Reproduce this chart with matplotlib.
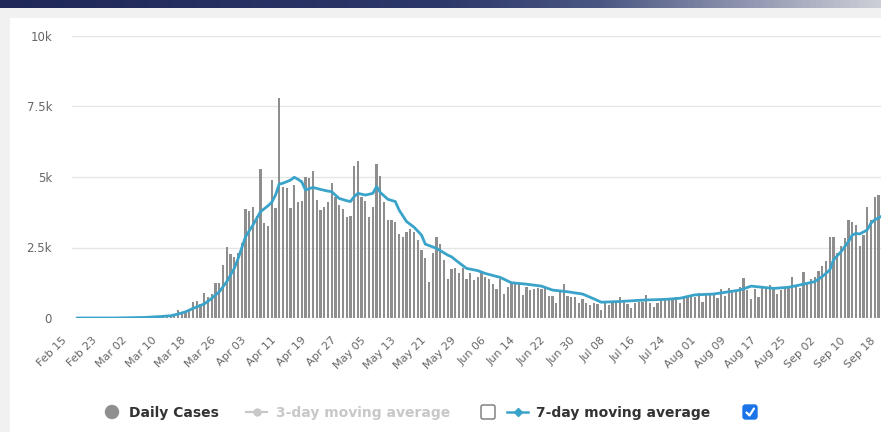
import numpy as np
import pandas as pd
import matplotlib
matplotlib.use('Agg')
import matplotlib.pyplot as plt
from matplotlib.patches import Rectangle, Circle, FancyBboxPatch
from matplotlib.colors import LinearSegmentedColormap
from matplotlib.transforms import ScaledTranslation

# ------------------------------------------------------------
# Data (daily cases from Feb 15, 2020)
# ------------------------------------------------------------
START = '2020-02-15'
LAST_TICK = '2020-09-18'

daily_cases = [
    0, 0, 0, 0, 0, 0, 0, 0, 0, 0,
    0, 0, 0, 0, 1, 0, 2, 3,
    5, 10, 20, 30, 50, 60, 90, 110, 150,
    280, 200, 220, 300, 550, 600, 500, 900,
    750, 850, 1230, 1250, 1880, 2530, 2260, 2170, 2300, 2670,
    3870, 3800, 3950, 3600, 5270, 3380, 3260, 4900, 3900, 7800,
    4660, 4600, 3900, 4700, 4100, 4150, 5000, 4950, 5200, 4200,
    3830, 3950, 4100, 4800, 4300, 4000, 3850, 3570, 3600, 5400,
    5550, 4280, 4160, 3570, 3950, 5460, 5040, 4130, 3480, 3480,
    3420, 2980, 2860, 3060, 3140, 3060, 2770, 2410, 2120, 1290,
    2300, 2880, 2620, 2060, 1370, 1730, 1760, 1580, 1760, 1370,
    1580, 1350, 1470, 1580, 1470, 1370, 1200, 1020, 1400, 850,
    1110, 1290, 1290, 1200, 820, 1110, 990, 1020, 1050, 1020,
    1050, 780, 780, 540, 930, 1200, 780, 760, 730, 540,
    660, 520, 460, 540, 500,
    280, 520, 460, 520, 520, 760, 580, 480, 340, 520,
    580, 580, 820, 520, 400, 540, 660, 700, 660, 660,
    730, 520, 700, 760, 820, 760, 870, 580, 850, 820,
    850, 700, 1020, 780, 1050, 930, 990, 1090, 1410, 990,
    660, 1020, 760, 1110, 1050, 1170, 1050, 850, 990, 1050,
    1110, 1450, 1110, 1050, 1640, 1250, 1370, 1470, 1680, 1840,
    2030, 2880, 2860, 2300, 2550, 2830, 3480, 3420, 3300, 2550,
    2950, 3950, 3480, 4280, 4360,
]

# 7-day moving average, sampled along the drawn line
ma7_dates = [
    '2020-02-15', '2020-02-25', '2020-03-04', '2020-03-08', '2020-03-11',
    '2020-03-13', '2020-03-15', '2020-03-17', '2020-03-20', '2020-03-22',
    '2020-03-24', '2020-03-26', '2020-03-28', '2020-03-29', '2020-03-31',
    '2020-04-02', '2020-04-04', '2020-04-06', '2020-04-07', '2020-04-08',
    '2020-04-09', '2020-04-10', '2020-04-12', '2020-04-13', '2020-04-14',
    '2020-04-15', '2020-04-16', '2020-04-18', '2020-04-20', '2020-04-22',
    '2020-04-23', '2020-04-25', '2020-04-27', '2020-04-28', '2020-04-29',
    '2020-04-30', '2020-05-02', '2020-05-04', '2020-05-05', '2020-05-06',
    '2020-05-08', '2020-05-10', '2020-05-11', '2020-05-13', '2020-05-15',
    '2020-05-17', '2020-05-18', '2020-05-21', '2020-05-24', '2020-05-25',
    '2020-05-27', '2020-05-29', '2020-06-01', '2020-06-03', '2020-06-07',
    '2020-06-10', '2020-06-14', '2020-06-18', '2020-06-21', '2020-06-25',
    '2020-06-29', '2020-07-02', '2020-07-04', '2020-07-08', '2020-07-12',
    '2020-07-16', '2020-07-21', '2020-07-25', '2020-07-29', '2020-08-03',
    '2020-08-07', '2020-08-10', '2020-08-13', '2020-08-16', '2020-08-19',
    '2020-08-23', '2020-08-26', '2020-08-30', '2020-09-01', '2020-09-03',
    '2020-09-04', '2020-09-06', '2020-09-08', '2020-09-09', '2020-09-10',
    '2020-09-11', '2020-09-13', '2020-09-14', '2020-09-15', '2020-09-17',
]
ma7_values = [
    0, 0, 20, 50, 80,
    140, 220, 340, 500, 700,
    930, 1290, 1760, 2100, 2880,
    3300, 3770, 3980, 4100, 4360,
    4750, 4780, 4890, 4990, 4920,
    4830, 4540, 4630, 4560, 4500,
    4480, 4240, 4160, 4130, 4300,
    4420, 4360, 4420, 4660, 4450,
    4210, 4130, 3830, 3420, 3220,
    2940, 2620, 2470, 2230, 2170,
    1960, 1760, 1680, 1580, 1440,
    1250, 1200, 1130, 990, 930,
    850, 680, 560, 580, 610,
    640, 660, 700, 820, 850,
    930, 990, 1130, 1090, 1050,
    1090, 1170, 1290, 1470, 1700,
    2060, 2350, 2710, 2940, 3000,
    2980, 3120, 3360, 3480, 3620,
]

y_ticks = [0, 2500, 5000, 7500, 10000]
y_tick_labels = ['0', '2.5k', '5k', '7.5k', '10k']
legend_labels = ['Daily Cases', '3-day moving average', '7-day moving average']

# ------------------------------------------------------------
# Style / layout (pixel based, image is 881 x 432)
# ------------------------------------------------------------
W, H, DPI = 881, 432, 100
BAR_COLOR = '#8e8e8e'
MA7_COLOR = '#3aa3c9'
TEXT_DARK = '#333333'
TEXT_AXIS = '#666666'
HIDDEN = '#c8c8c8'

PX_PER_DAY = 3.745
FIRST_BAR_PX = 77
PLOT_LEFT_PX = 72
PLOT_TOP_PX = 36
PLOT_BOTTOM_PX = 318

start = pd.Timestamp(START)
x_days = np.arange(len(daily_cases))
ma7_x = (pd.to_datetime(ma7_dates) - start).days.to_numpy()
tick_dates = pd.date_range(START, LAST_TICK, freq='8D')
tick_x = (tick_dates - start).days.to_numpy()
tick_labels = list(tick_dates.strftime('%b %d'))

fig = plt.figure(figsize=(W / DPI, H / DPI), dpi=DPI)
fig.patch.set_facecolor('#f1f1f1')

# page background + legend, in pixel coordinates
bg = fig.add_axes([0, 0, 1, 1], zorder=0)
band = LinearSegmentedColormap.from_list(
    'band', [(0.0, '#1f2858'), (0.5, '#2d386a'), (0.68, '#4a5682'),
             (0.85, '#9096b0'), (1.0, '#cdcfd6')])
bg.imshow(np.linspace(0, 1, 256).reshape(1, -1), cmap=band,
          extent=[0, W, 8, 0], aspect='auto')
bg.add_patch(Rectangle((10, 18), W - 10, H - 18, facecolor='white', edgecolor='none'))
bg.set_xlim(0, W)
bg.set_ylim(H, 0)
bg.axis('off')

# chart area
x_lo = -(FIRST_BAR_PX - PLOT_LEFT_PX) / PX_PER_DAY
x_hi = 220
ax_w = (x_hi - x_lo) * PX_PER_DAY
ax = fig.add_axes([PLOT_LEFT_PX / W, (H - PLOT_BOTTOM_PX) / H,
                   ax_w / W, (PLOT_BOTTOM_PX - PLOT_TOP_PX) / H], zorder=1)
ax.patch.set_alpha(0)

ax.bar(x_days, daily_cases, width=0.6, color=BAR_COLOR, linewidth=0, zorder=2)
ax.plot(ma7_x, ma7_values, color=MA7_COLOR, lw=2.0, zorder=3,
        solid_joinstyle='round', solid_capstyle='round')

ax.set_xlim(x_lo, x_hi)
ax.set_ylim(0, 10000)
for s in ax.spines.values():
    s.set_visible(False)
ax.grid(axis='y', color='#e6e6e6', lw=1)
ax.set_axisbelow(True)

ax.set_yticks(y_ticks, labels=y_tick_labels)
ax.tick_params(axis='y', length=0, pad=14.4, labelsize=8.5, labelcolor=TEXT_AXIS)
ax.set_xticks(tick_x, labels=tick_labels)
ax.tick_params(axis='x', length=0, pad=16.5, labelsize=8, labelcolor=TEXT_AXIS)
shift = ScaledTranslation(-10 / DPI, 0, fig.dpi_scale_trans)
for lab in ax.get_xticklabels():
    lab.set_rotation(45)
    lab.set_ha('right')
    lab.set_va('baseline')
    lab.set_rotation_mode('anchor')
    lab.set_transform(lab.get_transform() + shift)

# legend (drawn by hand to match the web widget)
LY = 412
bg.add_patch(Circle((112, LY), 6.5, color='#8f8f8f'))
bg.text(129, LY + 1, legend_labels[0], fontsize=10, fontweight='bold',
        color=TEXT_DARK, va='center', ha='left')

bg.plot([246, 267], [LY, LY], color=HIDDEN, lw=1.6)
bg.plot([256.5], [LY], 'o', ms=5, color=HIDDEN)
bg.text(276, LY + 1, legend_labels[1], fontsize=10, fontweight='bold',
        color=HIDDEN, va='center', ha='left')
bg.add_patch(FancyBboxPatch((481, 405), 14, 14, boxstyle='round,pad=0,rounding_size=2',
                            facecolor='white', edgecolor='#767676', lw=1))

bg.plot([507, 528], [LY, LY], color=MA7_COLOR, lw=1.8)
bg.plot([517.5], [LY], 'D', ms=4.5, color=MA7_COLOR)
bg.text(536, LY + 1, legend_labels[2], fontsize=10, fontweight='bold',
        color=TEXT_DARK, va='center', ha='left')
bg.add_patch(FancyBboxPatch((743, 405), 14, 14, boxstyle='round,pad=0,rounding_size=2.5',
                            facecolor='#1a73e8', edgecolor='#1a73e8', lw=1))
bg.plot([746.5, 749.5, 754], [412.5, 415.5, 408.5], color='white', lw=1.6,
        solid_capstyle='round', solid_joinstyle='round')

fig.savefig('out.png', dpi=DPI, facecolor=fig.get_facecolor())
